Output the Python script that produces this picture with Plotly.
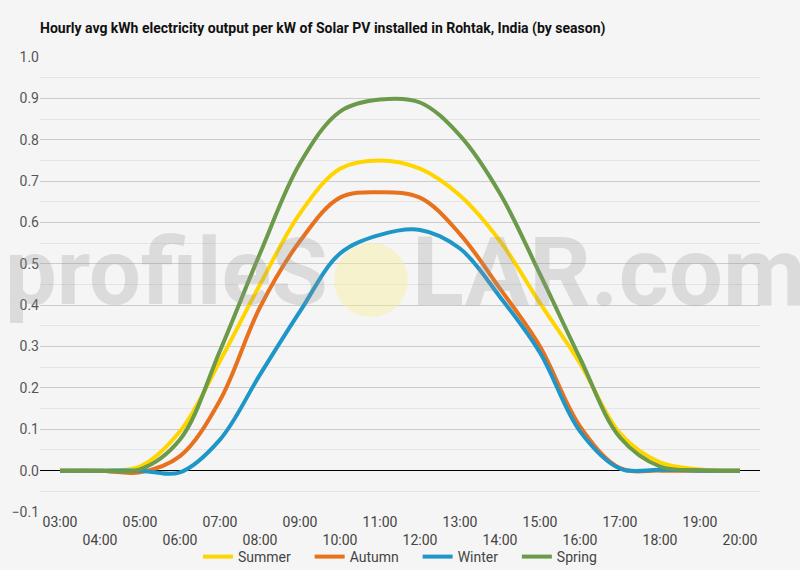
import plotly.graph_objects as go

hours = ["03:00", "04:00", "05:00", "06:00", "07:00", "08:00", "09:00", "10:00", "11:00",
         "12:00", "13:00", "14:00", "15:00", "16:00", "17:00", "18:00", "19:00", "20:00"]
summer = [0.0, 0.0, 0.01, 0.095, 0.265, 0.45, 0.622, 0.73, 0.75, 0.73, 0.665, 0.555, 0.405, 0.26, 0.09, 0.02, 0.003, 0.0]
autumn = [0.0, 0.0, -0.004, 0.035, 0.17, 0.395, 0.555, 0.66, 0.673, 0.66, 0.572, 0.44, 0.30, 0.107, 0.006, 0.0, 0.0, 0.0]
winter = [0.0, 0.0, 0.0, -0.004, 0.075, 0.232, 0.385, 0.525, 0.57, 0.582, 0.537, 0.42, 0.285, 0.095, 0.005, 0.002, 0.0, 0.0]
spring = [0.0, 0.0, 0.003, 0.075, 0.29, 0.525, 0.743, 0.868, 0.897, 0.89, 0.81, 0.67, 0.475, 0.272, 0.08, 0.01, 0.001, 0.0]

names = ["Summer", "Autumn", "Winter", "Spring"]
values = [summer, autumn, winter, spring]
colors = ["#FFD500", "#E8711E", "#1F96C8", "#6B9A4B"]

tick_text = [h if i % 2 == 0 else "<br>" + h for i, h in enumerate(hours)]

fig = go.Figure()
for i, (name, vals, col) in enumerate(zip(names, values, colors)):
    label = name + ("\u00a0" * 4 if i < len(names) - 1 else "")
    fig.add_trace(go.Scatter(x=hours, y=vals, name=label, mode="lines",
                             line=dict(color=col, width=4, shape="spline", smoothing=1)))

W, H = 800, 570
L, R, T, B = 40, 40, 57, 58
pw, ph = W - L - R, H - T - B

def px(x):
    return (x - L) / pw

def py(y):
    return (H - B - y) / ph

# watermark circle
fig.add_shape(type="circle", xref="paper", yref="paper",
              x0=px(334), x1=px(408), y0=py(317), y1=py(243),
              fillcolor="rgba(250,240,160,0.45)", line=dict(width=0), layer="above")

wm_color = "rgba(150,150,150,0.28)"
fig.add_annotation(text="profileS", xref="paper", yref="paper", x=px(330), y=py(272),
                   xanchor="right", yanchor="middle", showarrow=False,
                   font=dict(family="Roboto", size=92, weight=700, color=wm_color))
fig.add_annotation(text="LAR.com", xref="paper", yref="paper", x=px(410), y=py(272),
                   xanchor="left", yanchor="middle", showarrow=False,
                   font=dict(family="Roboto", size=96, weight=700, color=wm_color))

fig.update_layout(
    width=W, height=H,
    margin=dict(l=L, r=R, t=T, b=B, autoexpand=False),
    paper_bgcolor="#F5F5F5", plot_bgcolor="#F5F5F5",
    font=dict(family="Roboto", color="#444444", size=14),
    title=dict(text="<b>Hourly avg kWh electricity output per kW of Solar PV installed in Rohtak, India (by season)</b>",
               xref="container", yref="container",
               x=40 / W, xanchor="left", y=1 - 28 / H, yanchor="middle",
               font=dict(size=14, color="#111111", family="Roboto")),
    xaxis=dict(type="category", tickmode="array", tickvals=hours, ticktext=tick_text,
               range=[-0.5, len(hours) - 0.5],
               showgrid=False, zeroline=False, showline=False, ticks="",
               tickfont=dict(size=14, color="#444444"), tickangle=0),
    yaxis=dict(range=[-0.1, 1.0], dtick=0.1, tick0=0, tickformat=".1f",
               showgrid=True, gridcolor="#CBCBCB", gridwidth=1,
               minor=dict(dtick=0.05, showgrid=True, gridcolor="#E4E4E4", gridwidth=1),
               zeroline=True, zerolinecolor="#000000", zerolinewidth=1,
               showline=False, ticks="", tickfont=dict(size=14, color="#555555")),
    legend=dict(orientation="h", x=0.5, xanchor="center", y=-(557 - (H - B)) / ph, yanchor="middle",
                font=dict(size=14, color="#444444"), bgcolor="rgba(0,0,0,0)"),
    showlegend=True,
)

fig.write_html("out.html", config={"displayModeBar": False},
               post_script="document.body.style.margin='0';document.body.style.background='#F5F5F5';")
